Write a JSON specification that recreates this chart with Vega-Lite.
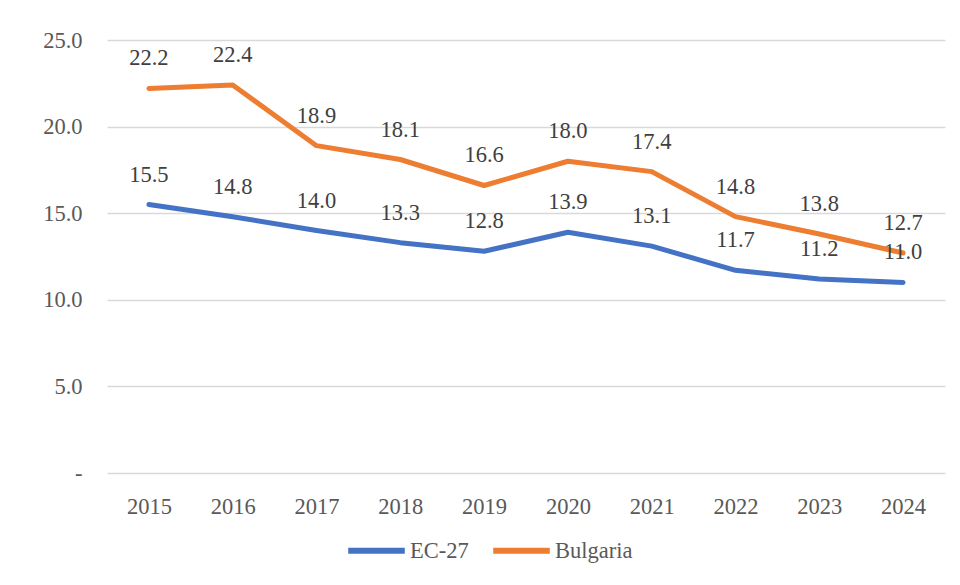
{
  "$schema": "https://vega.github.io/schema/vega-lite/v6.json",
  "width": 838,
  "height": 433,
  "autosize": "none",
  "padding": {"left": 107, "top": 40, "right": 15, "bottom": 112},
  "background": "white",
  "data": {
    "values": [
      {"year": "2015", "series": "EC-27", "value": 15.5},
      {"year": "2016", "series": "EC-27", "value": 14.8},
      {"year": "2017", "series": "EC-27", "value": 14.0},
      {"year": "2018", "series": "EC-27", "value": 13.3},
      {"year": "2019", "series": "EC-27", "value": 12.8},
      {"year": "2020", "series": "EC-27", "value": 13.9},
      {"year": "2021", "series": "EC-27", "value": 13.1},
      {"year": "2022", "series": "EC-27", "value": 11.7},
      {"year": "2023", "series": "EC-27", "value": 11.2},
      {"year": "2024", "series": "EC-27", "value": 11.0},
      {"year": "2015", "series": "Bulgaria", "value": 22.2},
      {"year": "2016", "series": "Bulgaria", "value": 22.4},
      {"year": "2017", "series": "Bulgaria", "value": 18.9},
      {"year": "2018", "series": "Bulgaria", "value": 18.1},
      {"year": "2019", "series": "Bulgaria", "value": 16.6},
      {"year": "2020", "series": "Bulgaria", "value": 18.0},
      {"year": "2021", "series": "Bulgaria", "value": 17.4},
      {"year": "2022", "series": "Bulgaria", "value": 14.8},
      {"year": "2023", "series": "Bulgaria", "value": 13.8},
      {"year": "2024", "series": "Bulgaria", "value": 12.7}
    ]
  },
  "encoding": {
    "x": {
      "field": "year", "type": "ordinal",
      "scale": {"type": "point", "padding": 0.5},
      "axis": {"title": null, "labelAngle": 0, "domain": false, "ticks": false, "grid": false, "labelPadding": 22}
    },
    "y": {
      "field": "value", "type": "quantitative",
      "scale": {"domain": [0, 25]},
      "axis": {
        "title": null, "values": [0, 5, 10, 15, 20, 25], "domain": false, "ticks": false,
        "labelExpr": "datum.value == 0 ? '-' : format(datum.value, '.1f')",
        "labelPadding": 25, "gridColor": "#d9d9d9", "gridWidth": 1.5
      }
    }
  },
  "layer": [
    {
      "mark": {"type": "line", "strokeWidth": 5, "strokeCap": "round", "strokeJoin": "round"},
      "encoding": {
        "color": {
          "field": "series", "type": "nominal",
          "scale": {"domain": ["EC-27", "Bulgaria"], "range": ["#4472C4", "#ED7D31"]},
          "legend": {
            "title": null, "orient": "none", "direction": "horizontal",
            "legendX": 238, "legendY": 479,
            "symbolType": "stroke", "symbolSize": 3200, "symbolStrokeWidth": 6,
            "labelOffset": 2, "columnPadding": 12
          }
        }
      }
    },
    {
      "mark": {"type": "text", "dy": -30, "fontSize": 22.5, "font": "Liberation Serif, Times New Roman, serif", "color": "#404040"},
      "encoding": {
        "text": {"field": "value", "type": "quantitative", "format": ".1f"},
        "detail": {"field": "series"}
      }
    }
  ],
  "config": {
    "view": {"stroke": null},
    "axis": {"labelFont": "Liberation Serif, Times New Roman, serif", "labelFontSize": 22.5, "labelColor": "#595959"},
    "legend": {"labelFont": "Liberation Serif, Times New Roman, serif", "labelFontSize": 22.5, "labelColor": "#595959"}
  }
}
